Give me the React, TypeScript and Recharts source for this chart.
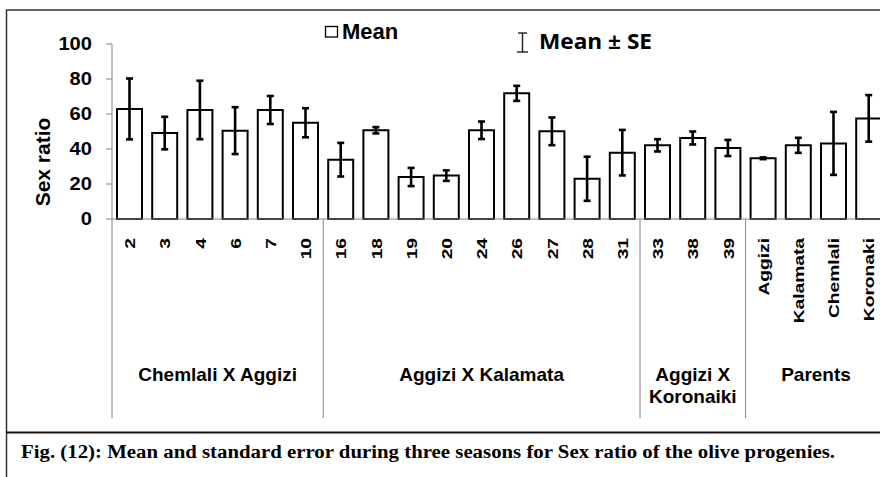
import { Bar, BarChart, ErrorBar, XAxis, YAxis } from "recharts";

const categories = [
  "2", "3", "4", "6", "7", "10",
  "16", "18", "19", "20", "24", "26", "27", "28", "31",
  "33", "38", "39",
  "Aggizi", "Kalamata", "Chemlali", "Koronaki",
];
const means = [
  62.9, 49.1, 62.3, 50.5, 62.3, 55.0,
  33.9, 50.7, 24.0, 24.8, 50.7, 71.8, 50.1, 23.0, 37.9,
  42.1, 46.3, 40.6,
  34.7, 42.1, 43.2, 57.5,
];
const stdErrors = [
  17.4, 9.3, 16.7, 13.4, 8.0, 8.3,
  9.6, 1.8, 5.2, 3.0, 5.0, 4.3, 7.9, 12.6, 13.0,
  3.5, 3.7, 4.6,
  0.5, 4.3, 18.0, 13.3,
];
const groupNames = [["Chemlali X Aggizi"], ["Aggizi X Kalamata"], ["Aggizi X", "Koronaiki"], ["Parents"]];
const groupSizes = [6, 9, 3, 4];
const yTicks = [0, 20, 40, 60, 80, 100];

const data = categories.map((name, i) => ({ name, mean: means[i], se: stdErrors[i] }));

// layout
const CHART_W = 900;
const CHART_H = 430;
const M_TOP = 44;
const M_RIGHT = 13.6;
const Y_W = 112;
const AXIS_Y = 219;
const TICK_MARGIN = 19;
const BAND = (CHART_W - Y_W - M_RIGHT) / categories.length;
const GRID = "#868686";
const SANS = "'Liberation Sans', Arial, sans-serif";

const groupStarts = groupSizes.map((_, g) => groupSizes.slice(0, g).reduce((a, b) => a + b, 0));

function CategoryTick(props: any) {
  const { x, y, payload, index } = props;
  const axisY = y - TICK_MARGIN;
  const g = groupStarts.indexOf(index);
  const fs = 15.5;
  return (
    <g>
      <text
        transform={`translate(${x},${y}) rotate(-90) scale(1.24,1)`}
        dy={fs * 0.36}
        textAnchor="end"
        fontFamily={SANS}
        fontWeight="bold"
        fontSize={fs}
        fill="#000"
      >
        {payload.value}
      </text>
      {g >= 0 && (
        <>
          <line x1={x - BAND / 2} x2={x - BAND / 2} y1={axisY} y2={axisY + 199} stroke={GRID} strokeWidth={1} />
          {groupNames[g].map((ln, k) => (
            <text
              key={k}
              x={x - BAND / 2 + (groupSizes[g] * BAND) / 2}
              y={axisY + 162 + k * 22}
              textAnchor="middle"
              fontFamily={SANS}
              fontWeight="bold"
              fontSize={19}
              fill="#000"
            >
              {ln}
            </text>
          ))}
        </>
      )}
    </g>
  );
}

function ValueTick(props: any) {
  const { x, y, payload } = props;
  return (
    <text
      transform={`translate(${x},${y}) scale(1.15,1)`}
      dy="0.36em"
      textAnchor="end"
      fontFamily={SANS}
      fontWeight="bold"
      fontSize={17.5}
      fill="#000"
    >
      {payload.value}
    </text>
  );
}

export default function App() {
  return (
    <div
      style={{
        position: "fixed", left: 0, top: 0, width: 880, height: 477,
        overflow: "hidden", background: "#fff",
      }}
    >
      <div style={{ position: "absolute", left: 0, top: 0 }}>
        <BarChart
          width={CHART_W}
          height={CHART_H}
          data={data}
          margin={{ top: M_TOP, right: M_RIGHT, bottom: 0, left: 0 }}
          barCategoryGap={0}
        >
          <XAxis
            dataKey="name"
            interval={0}
            height={CHART_H - AXIS_Y}
            tickLine={false}
            tickSize={0}
            tickMargin={TICK_MARGIN}
            axisLine={{ stroke: GRID, strokeWidth: 1 }}
            tick={<CategoryTick />}
          />
          <YAxis
            width={Y_W}
            domain={[0, 100]}
            ticks={yTicks}
            tickSize={6}
            tickMargin={14}
            tickLine={{ stroke: GRID }}
            axisLine={{ stroke: GRID, strokeWidth: 1 }}
            tick={<ValueTick />}
          />
          <Bar dataKey="mean" fill="#fff" stroke="#000" strokeWidth={2} barSize={25} isAnimationActive={false}>
            <ErrorBar dataKey="se" width={3.5} strokeWidth={2.6} stroke="#000" isAnimationActive={false} />
          </Bar>
        </BarChart>
      </div>

      <svg width={880} height={477} style={{ position: "absolute", left: 0, top: 0, pointerEvents: "none" }}>
        {/* frame */}
        <line x1={6} x2={880} y1={10} y2={10} stroke="#333" strokeWidth={1.5} />
        <line x1={6.5} x2={6.5} y1={10} y2={477} stroke="#333" strokeWidth={1.5} />
        <line x1={6} x2={880} y1={432.5} y2={432.5} stroke="#111" strokeWidth={2} />

        {/* y axis title */}
        <text
          transform="translate(50,162) rotate(-90)"
          textAnchor="middle"
          fontFamily={SANS}
          fontWeight="bold"
          fontSize={21}
          fill="#000"
        >
          Sex ratio
        </text>

        {/* legend */}
        <rect x={325.5} y={26.5} width={12} height={10.5} fill="#fff" stroke="#000" strokeWidth={1.3} />
        <text x={342} y={39} fontFamily={SANS} fontWeight="bold" fontSize={22} fill="#000">Mean</text>
        <g stroke="#222" strokeWidth={1.4}>
          <line x1={522.5} x2={522.5} y1={33} y2={52} />
          <line x1={518} x2={527} y1={33} y2={33} />
          <line x1={517} x2={528} y1={52} y2={52} />
        </g>
        <text
          x={539}
          y={49}
          fontFamily="'Open Sans', sans-serif"
          fontWeight="bold"
          fontSize={22}
          textLength={113}
          lengthAdjust="spacingAndGlyphs"
          fill="#000"
        >
          Mean ± SE
        </text>

        {/* caption */}
        <text
          x={21}
          y={458}
          fontFamily="'Liberation Serif', 'Times New Roman', serif"
          fontWeight="bold"
          fontSize={18}
          textLength={814}
          lengthAdjust="spacingAndGlyphs"
          fill="#000"
        >
          Fig. (12): Mean and standard error during three seasons for Sex ratio of the olive progenies.
        </text>
      </svg>
    </div>
  );
}
